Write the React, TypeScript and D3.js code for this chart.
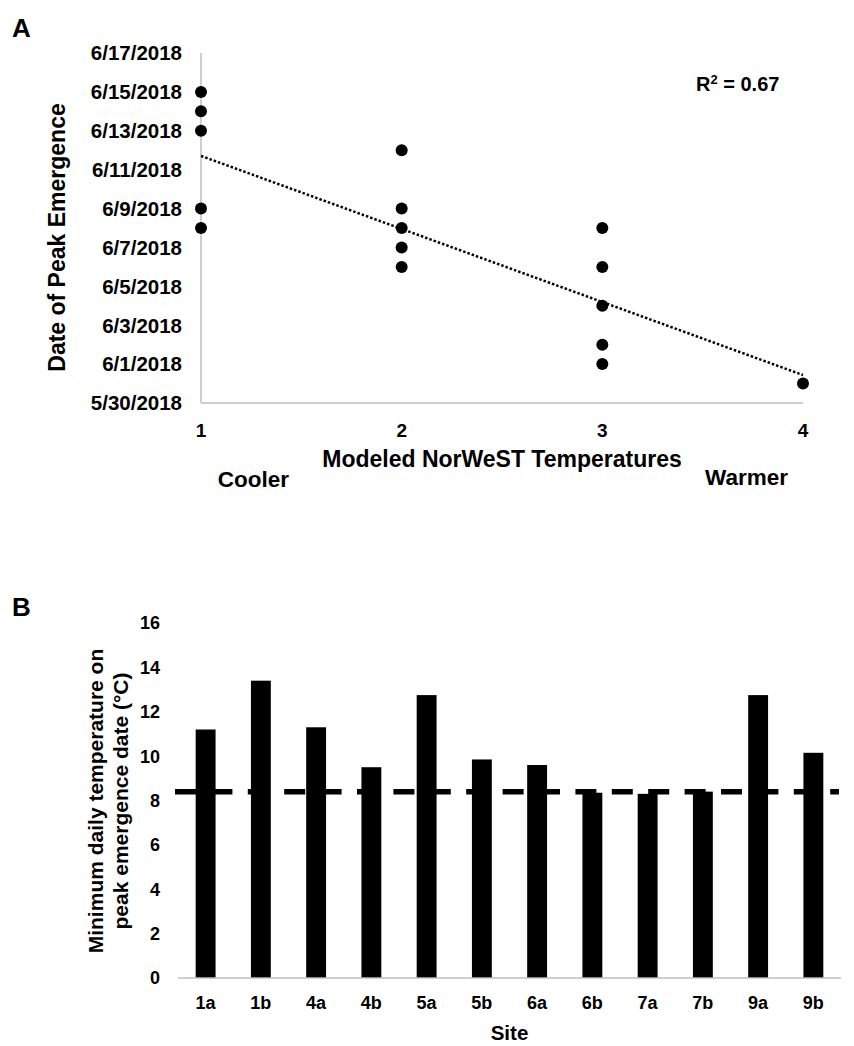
import React from "react";
import * as d3 from "d3";

// ---------- Panel A data ----------
const tempClass = [1, 1, 1, 1, 1, 2, 2, 2, 2, 2, 3, 3, 3, 3, 3, 4];
const peakDate = [
  "6/15/2018", "6/14/2018", "6/13/2018", "6/9/2018", "6/8/2018",
  "6/12/2018", "6/9/2018", "6/8/2018", "6/7/2018", "6/6/2018",
  "6/8/2018", "6/6/2018", "6/4/2018", "6/2/2018", "6/1/2018",
  "5/31/2018",
];
const dateTicks = [
  "5/30/2018", "6/1/2018", "6/3/2018", "6/5/2018", "6/7/2018",
  "6/9/2018", "6/11/2018", "6/13/2018", "6/15/2018", "6/17/2018",
];
const classTicks = [1, 2, 3, 4];
const trendX = [1, 4];
const trendDate = ["2018-06-11 17:00", "2018-05-31 10:30"];
const rSquaredLabel = "0.67";

// ---------- Panel B data ----------
const sites = ["1a", "1b", "4a", "4b", "5a", "5b", "6a", "6b", "7a", "7b", "9a", "9b"];
const minTemp = [11.2, 13.4, 11.3, 9.5, 12.75, 9.85, 9.6, 8.35, 8.3, 8.4, 12.75, 10.15];
const tempTicks = [0, 2, 4, 6, 8, 10, 12, 14, 16];
const thresholdTemp = 8.4;

const FONT = "'Liberation Sans', Arial, Helvetica, sans-serif";
const AXIS_GRAY = "#bfbfbf";

export default function App() {
  const parseMDY = d3.timeParse("%m/%d/%Y");
  const parseDT = d3.timeParse("%Y-%m-%d %H:%M");

  // Panel A scales
  const xA = d3.scaleLinear().domain([1, 4]).range([201, 803]);
  const yA = d3
    .scaleTime()
    .domain([parseMDY("5/30/2018") as Date, parseMDY("6/17/2018") as Date])
    .range([403, 53]);
  const fmtDate = (d: Date) => `${d.getMonth() + 1}/${d.getDate()}/${d.getFullYear()}`;

  const points = tempClass.map((c, i) => ({ x: c, d: parseMDY(peakDate[i]) as Date }));
  const trendPts = trendX.map((x, i) => ({ x, d: parseDT(trendDate[i]) as Date }));
  const trendLine = d3
    .line<{ x: number; d: Date }>()
    .x((p) => xA(p.x))
    .y((p) => yA(p.d));

  // Panel B scales
  const xB = d3.scaleBand<string>().domain(sites).range([178, 841]).paddingInner(0.64).paddingOuter(0.32);
  const yB = d3.scaleLinear().domain([0, 16]).range([978, 623]);

  return (
    <svg
      width={854}
      height={1046}
      style={{ position: "absolute", left: 0, top: 0, display: "block", background: "#fff" }}
      fontFamily={FONT}
      fontWeight="bold"
    >
      <rect x={0} y={0} width={854} height={1046} fill="#fff" />

      {/* ================= Panel A ================= */}
      <text x={12} y={37} fontSize={26}>A</text>

      {/* axes */}
      <line x1={xA(1)} x2={xA(1)} y1={yA.range()[1]} y2={yA.range()[0]} stroke={AXIS_GRAY} strokeWidth={1.5} />
      <line x1={xA(1)} x2={xA(4)} y1={yA.range()[0]} y2={yA.range()[0]} stroke={AXIS_GRAY} strokeWidth={1.5} />

      {/* y tick labels */}
      {dateTicks.map((t) => {
        const d = parseMDY(t) as Date;
        return (
          <text key={t} x={182} y={yA(d)} dy="0.36em" textAnchor="end" fontSize={20.5}>
            {fmtDate(d)}
          </text>
        );
      })}

      {/* x tick labels */}
      {classTicks.map((c) => (
        <text key={c} x={xA(c)} y={437} textAnchor="middle" fontSize={19}>
          {c}
        </text>
      ))}

      {/* trend line */}
      <path d={trendLine(trendPts) || ""} fill="none" stroke="#000" strokeWidth={2.5} strokeDasharray="2.5 2" />

      {/* points */}
      {points.map((p, i) => (
        <circle key={i} cx={xA(p.x)} cy={yA(p.d)} r={6} fill="#000" />
      ))}

      {/* R squared */}
      <text x={696} y={91} fontSize={20}>
        R<tspan fontSize={13} dy={-7}>2</tspan>
        <tspan dy={7}> = {rSquaredLabel}</tspan>
      </text>

      {/* axis titles */}
      <text transform="translate(65,237.5) rotate(-90)" textAnchor="middle" fontSize={23}>
        Date of Peak Emergence
      </text>
      <text x={502} y={467} textAnchor="middle" fontSize={23}>
        Modeled NorWeST Temperatures
      </text>
      <text x={253.5} y={487} textAnchor="middle" fontSize={22.5}>
        Cooler
      </text>
      <text x={746.5} y={485} textAnchor="middle" fontSize={22.5}>
        Warmer
      </text>

      {/* ================= Panel B ================= */}
      <text x={12} y={616} fontSize={26}>B</text>

      {/* bars */}
      {sites.map((s, i) => (
        <rect
          key={s}
          x={xB(s) as number}
          y={yB(minTemp[i])}
          width={xB.bandwidth()}
          height={yB(0) - yB(minTemp[i])}
          fill="#000"
        />
      ))}

      {/* x axis line */}
      <line x1={178} x2={841} y1={yB(0)} y2={yB(0)} stroke={AXIS_GRAY} strokeWidth={1.5} />

      {/* threshold dashed line */}
      <line
        x1={175}
        x2={839}
        y1={yB(thresholdTemp)}
        y2={yB(thresholdTemp)}
        stroke="#000"
        strokeWidth={5.5}
        strokeDasharray="21 15.4"
      />

      {/* y tick labels */}
      {tempTicks.map((t) => (
        <text key={t} x={160} y={yB(t)} dy="0.36em" textAnchor="end" fontSize={18}>
          {t}
        </text>
      ))}

      {/* x tick labels */}
      {sites.map((s) => (
        <text key={s} x={(xB(s) as number) + xB.bandwidth() / 2} y={1009} textAnchor="middle" fontSize={18}>
          {s}
        </text>
      ))}

      {/* axis titles */}
      <text transform="translate(103,801) rotate(-90)" textAnchor="middle" fontSize={21}>
        Minimum daily temperature on
      </text>
      <text transform="translate(128,801) rotate(-90)" textAnchor="middle" fontSize={21}>
        peak emergence date (°C)
      </text>
      <text x={509.5} y={1040} textAnchor="middle" fontSize={20.5}>
        Site
      </text>
    </svg>
  );
}
